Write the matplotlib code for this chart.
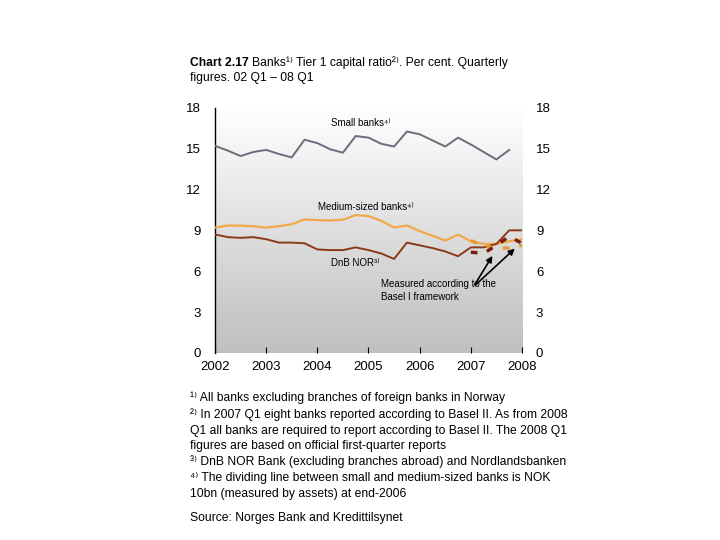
import numpy as np
import matplotlib
matplotlib.use("Agg")
import matplotlib.pyplot as plt

plt.rcParams["font.family"] = ["Liberation Sans", "DejaVu Sans"]

# ── Data (quarterly, 02 Q1 – 08 Q1) ──────────────────────────────────────────
quarters = [2002 + i / 4 for i in range(25)]

small_banks = [15.2, 14.85, 14.45, 14.75, 14.9, 14.6, 14.35, 15.65, 15.4, 14.95,
               14.7, 15.92, 15.8, 15.35, 15.15, 16.25, 16.05, 15.6, 15.15, 15.8,
               15.3, 14.75, 14.2, 14.9]
medium_banks = [9.2, 9.35, 9.35, 9.3, 9.2, 9.3, 9.45, 9.8, 9.75, 9.72, 9.78,
                10.12, 10.05, 9.7, 9.2, 9.35, 8.95, 8.6, 8.25, 8.68, 8.2, 8.0,
                8.0, 8.2, 8.35]
dnb_nor = [8.7, 8.5, 8.45, 8.5, 8.35, 8.1, 8.1, 8.05, 7.6, 7.55, 7.55, 7.75,
           7.55, 7.3, 6.9, 8.1, 7.9, 7.7, 7.45, 7.1, 7.75, 7.75, 8.0, 9.0, 9.0]

# Basel I measured values, 07 Q1 – 08 Q1
basel1_x = quarters[20:25]
basel1_medium = [8.25, 7.85, 7.7, 7.7, 7.9]
basel1_dnb = [7.4, 7.3, 7.9, 8.55, 8.05]

years = list(range(2002, 2009))
yticks = [0, 3, 6, 9, 12, 15, 18]

SMALL_COLOR = "#6c6c7e"
MEDIUM_COLOR = "#f2a848"
DNB_COLOR = "#8a3a18"
TEXT = "black"

# ── Figure ───────────────────────────────────────────────────────────────────
fig = plt.figure(figsize=(7.2, 5.4), dpi=100, facecolor="white")
ax = fig.add_axes([0.2986, 0.3463, 0.4264, 0.4543])

# grey gradient background
grad = np.linspace(0, 1, 256).reshape(-1, 1)
ax.imshow(grad, extent=[0, 1, 0, 1], transform=ax.transAxes, aspect="auto",
          cmap=matplotlib.colors.LinearSegmentedColormap.from_list(
              "bg", ["#ffffff", "#bfbfbf"]), zorder=0)

ax.plot(quarters[:len(small_banks)], small_banks, color=SMALL_COLOR, lw=1.4, zorder=3)
ax.plot(quarters, medium_banks, color=MEDIUM_COLOR, lw=1.6, zorder=3)
ax.plot(quarters, dnb_nor, color=DNB_COLOR, lw=1.4, zorder=3)
ax.plot(basel1_x, basel1_medium, color="#e89a30", lw=2.4, ls=(0, (2, 3)), zorder=4)
ax.plot(basel1_x, basel1_dnb, color="#7a1a10", lw=2.4, ls=(0, (2, 3)), zorder=4)

ax.set_xlim(2002, 2008)
ax.set_ylim(0, 18)
ax.set_xticks(years)
ax.set_xticklabels([str(y) for y in years], fontsize=9.5)
ax.set_yticks(yticks)
ax.set_yticklabels([str(v) for v in yticks], fontsize=9.5)
ax.tick_params(axis="x", direction="in", length=4, pad=6, colors=TEXT)
ax.tick_params(axis="y", length=0, pad=10, labelright=True, colors=TEXT)
ax.spines[["top", "right", "bottom"]].set_visible(False)
ax.spines["left"].set_color("black")
ax.spines["left"].set_linewidth(1.0)

# series labels
ax.text(2004.85, 16.9, "Small banks⁴⁾", fontsize=7, ha="center", va="center")
ax.text(2004.95, 10.7, "Medium-sized banks⁴⁾", fontsize=7, ha="center", va="center")
ax.text(2004.75, 6.6, "DnB NOR³⁾", fontsize=7, ha="center", va="center")
ax.text(2005.25, 4.6, "Measured according to the\nBasel I framework",
        fontsize=7, ha="left", va="center", linespacing=1.3)
for tx, ty in [(2007.45, 7.3), (2007.9, 7.8)]:
    ax.annotate("", xy=(tx, ty), xytext=(2007.05, 4.85),
                arrowprops=dict(arrowstyle="-|>", color="black", lw=1.2,
                                mutation_scale=9))

# ── Title ────────────────────────────────────────────────────────────────────
t1 = fig.text(190 / 720, 1 - 63 / 540, "Chart 2.17", fontsize=8.7, fontweight="bold",
              va="center", ha="left")
fig.canvas.draw()
bb = t1.get_window_extent()
fig.text(bb.x1 / 720 + 0.004, 1 - 63 / 540,
         "Banks¹⁾ Tier 1 capital ratio²⁾. Per cent. Quarterly",
         fontsize=8.7, va="center", ha="left")
fig.text(190 / 720, 1 - 78 / 540, "figures. 02 Q1 – 08 Q1", fontsize=8.7,
         va="center", ha="left")

# ── Footnotes ────────────────────────────────────────────────────────────────
notes = [
    (398, "¹⁾ All banks excluding branches of foreign banks in Norway"),
    (415, "²⁾ In 2007 Q1 eight banks reported according to Basel II. As from 2008"),
    (431, "Q1 all banks are required to report according to Basel II. The 2008 Q1"),
    (446, "figures are based on official first-quarter reports"),
    (462, "³⁾ DnB NOR Bank (excluding branches abroad) and Nordlandsbanken"),
    (478, "⁴⁾ The dividing line between small and medium-sized banks is NOK"),
    (494, "10bn (measured by assets) at end-2006"),
    (518, "Source: Norges Bank and Kredittilsynet"),
]
for y, s in notes:
    fig.text(190 / 720, 1 - y / 540, s, fontsize=8.7, va="center", ha="left")

fig.savefig("out.png", dpi=100, facecolor="white")
